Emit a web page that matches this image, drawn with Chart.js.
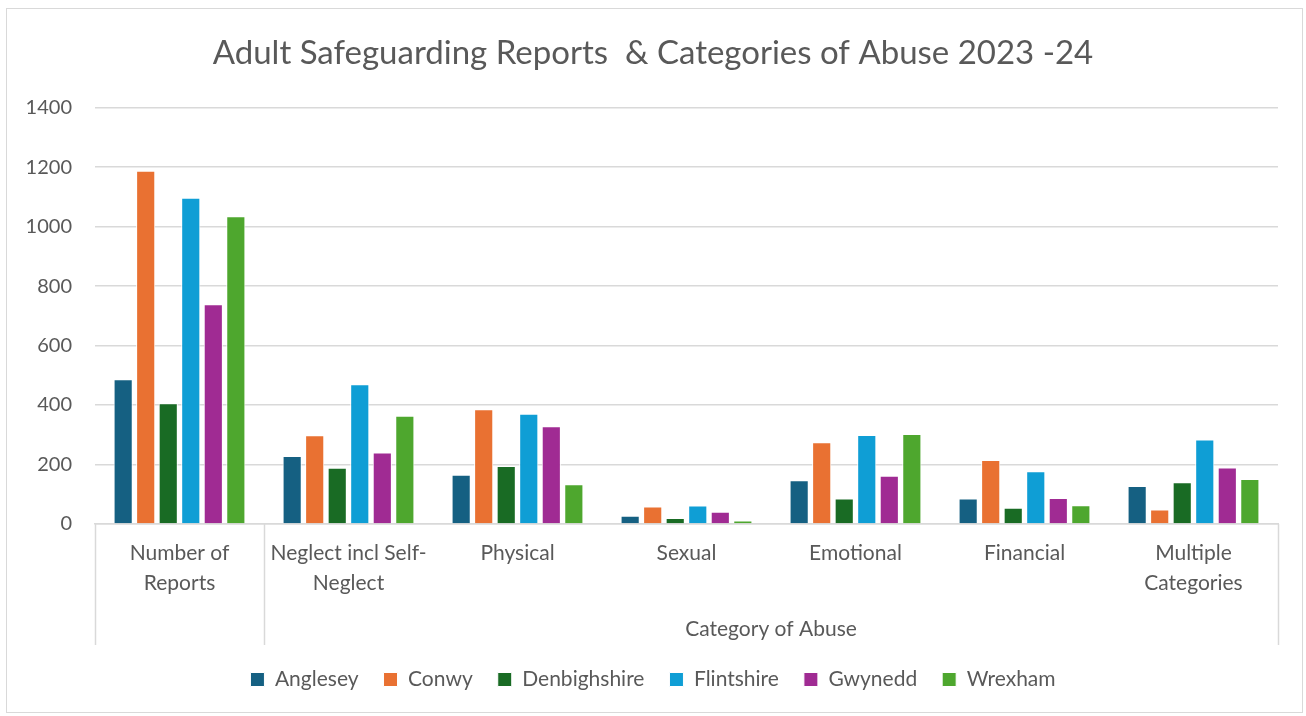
<!DOCTYPE html>
<html>
<head>
<meta charset="utf-8">
<script src="https://cdn.jsdelivr.net/npm/chart.js@4/dist/chart.umd.min.js"></script>
<style>
  html, body { margin: 0; padding: 0; background: #fff; }
  #wrap { position: relative; width: 1306px; height: 716px; }
</style>
</head>
<body>
<div id="wrap"><canvas id="chart" width="1306" height="716"></canvas></div>
<script>
// Categories and series
const categories = [['Number of', 'Reports'], ['Neglect incl Self-', 'Neglect'], 'Physical', 'Sexual', 'Emotional', 'Financial', ['Multiple', 'Categories']];
const groupLabel = 'Category of Abuse';
const anglesey     = [487, 229, 166, 28, 147, 86, 128];
const conwy        = [1188, 298, 386, 59, 275, 215, 49];
const denbighshire = [406, 189, 195, 20, 86, 55, 140];
const flintshire   = [1097, 470, 371, 62, 299, 177, 284];
const gwynedd      = [739, 240, 329, 41, 162, 87, 190];
const wrexham      = [1035, 364, 134, 12, 303, 63, 151];
const yTicks = [0, 200, 400, 600, 800, 1000, 1200, 1400];

const FONT = 'Lato, "Noto Sans", sans-serif';
const TEXT = '#595959';
const GRID = '#d9d9d9';

const series = [
    { label: 'Anglesey', data: anglesey, color: '#156082' },
    { label: 'Conwy', data: conwy, color: '#E97132' },
    { label: 'Denbighshire', data: denbighshire, color: '#196B24' },
    { label: 'Flintshire', data: flintshire, color: '#0F9ED5' },
    { label: 'Gwynedd', data: gwynedd, color: '#A02B93' },
    { label: 'Wrexham', data: wrexham, color: '#4EA72E' },
];

// multi-level axis: separators + group label, plus the outer chart border
const extrasPlugin = {
    id: 'extras',
    afterDraw(chart) {
        const { ctx, chartArea, scales } = chart;
        const x = scales.x;
        const bottom = chartArea.bottom + 121;
        const split = (x.getPixelForTick(0) + x.getPixelForTick(1)) / 2;
        ctx.save();
        ctx.strokeStyle = GRID;
        ctx.lineWidth = 1.5;
        for (const px of [chartArea.left, split, chartArea.right]) {
            ctx.beginPath();
            ctx.moveTo(Math.round(px) + 0.5, chartArea.bottom);
            ctx.lineTo(Math.round(px) + 0.5, bottom);
            ctx.stroke();
        }
        ctx.fillStyle = TEXT;
        ctx.font = '21px ' + FONT;
        ctx.textAlign = 'center';
        ctx.textBaseline = 'middle';
        ctx.fillText(groupLabel, (split + chartArea.right) / 2, chartArea.bottom + 105);
        ctx.strokeStyle = GRID;
        ctx.lineWidth = 1;
        ctx.strokeRect(6.5, 8.5, 1296, 704);
        ctx.restore();
    }
};

new Chart(document.getElementById('chart'), {
    type: 'bar',
    data: {
        labels: categories,
        datasets: series.map(s => ({
            label: s.label,
            data: s.data,
            backgroundColor: s.color,
            borderColor: '#ffffff',
            borderWidth: 1,
            categoryPercentage: 0.8,
            barPercentage: 0.85,
        })),
    },
    options: {
        responsive: false,
        animation: false,
        layout: { padding: { left: 0, right: 0, top: 0, bottom: 16 } },
        scales: {
            x: {
                grid: { display: false, drawTicks: false },
                border: { display: true, color: GRID, width: 1.5 },
                ticks: { color: TEXT, font: { size: 21, family: FONT, lineHeight: 1.4 }, padding: 15, maxRotation: 0, autoSkip: false },
                afterFit(scale) { scale.height = 120; },
            },
            y: {
                min: 0, max: 1400,
                afterBuildTicks(scale) { scale.ticks = yTicks.map(v => ({ value: v })); },
                grid: { color: GRID, lineWidth: 1.5, drawTicks: false },
                border: { display: false },
                ticks: { color: TEXT, font: { size: 20, family: FONT }, padding: 23, callback: v => String(v) },
                afterFit(scale) { scale.width = 95; },
            },
            // empty right-hand spacer so title and legend centre on the full width
            yRight: {
                position: 'right',
                display: true,
                grid: { display: false, drawTicks: false },
                border: { display: false },
                ticks: { display: false },
                afterFit(scale) { scale.width = 28; },
            },
        },
        plugins: {
            title: {
                display: true,
                text: 'Adult Safeguarding Reports  & Categories of Abuse 2023 -24',
                color: TEXT,
                font: { size: 33, family: FONT, weight: 'normal' },
                padding: { top: 34, bottom: 34 },
            },
            legend: {
                position: 'bottom',
                labels: { color: TEXT, font: { size: 21, family: FONT }, boxWidth: 14, boxHeight: 14, padding: 25 },
            },
            tooltip: { enabled: false },
        },
    },
    plugins: [extrasPlugin],
});
</script>
</body>
</html>
